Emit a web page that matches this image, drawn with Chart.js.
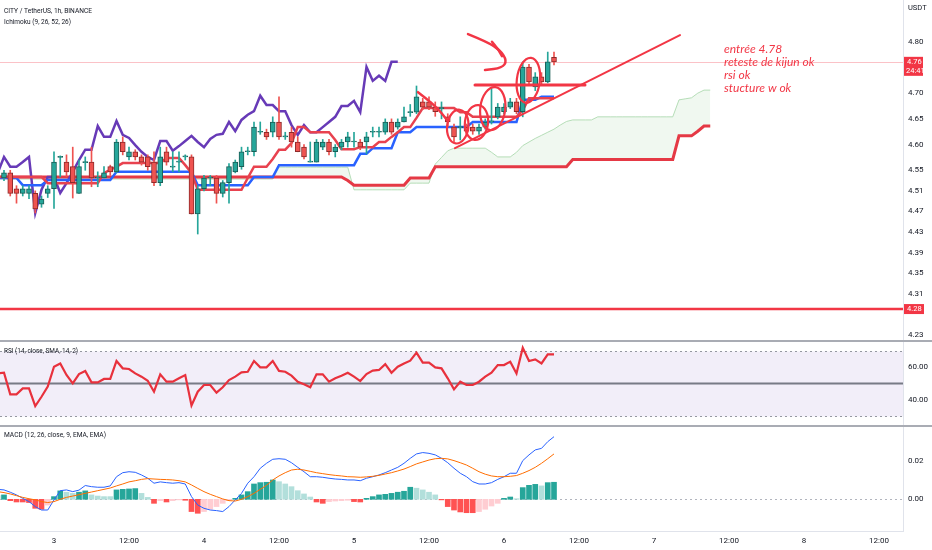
<!DOCTYPE html>
<html lang="fr">
<head>
<meta charset="utf-8">
<title>CITY / TetherUS 1h</title>
<script src="https://cdn.jsdelivr.net/npm/chart.js@4.4.1/dist/chart.umd.min.js"></script>
<style>
  html, body { margin: 0; padding: 0; background: #fff; }
  body { width: 932px; height: 550px; position: relative; overflow: hidden; }
  canvas { position: absolute; left: 0; }
</style>
</head>
<body>
<canvas id="graphPrix" width="932" height="340" style="top:0px"></canvas>
<canvas id="graphRsi" width="932" height="85" style="top:340px"></canvas>
<canvas id="graphMacd" width="932" height="125" style="top:425px"></canvas>
<script>
// bougies 1h, index 0 = le 2 a 16:00
const ouv = [4.535,4.545,4.514,4.505,4.505,4.505,4.484,4.505,4.514,4.575,
  4.566,4.557,4.505,4.565,4.566,4.535,4.535,4.557,4.547,4.605,
  4.576,4.586,4.576,4.576,4.566,4.526,4.586,4.556,4.566,4.576,
  4.576,4.465,4.514,4.535,4.535,4.505,4.526,4.547,4.557,4.586,
  4.586,4.624,4.624,4.624,4.644,4.615,4.624,4.605,4.595,4.566,
  4.566,4.595,4.605,4.586,4.595,4.605,4.605,4.605,4.605,4.624,
  4.624,4.624,4.644,4.634,4.644,4.662,4.663,4.683,4.683,4.673,
  4.670,4.654,4.634,4.633,4.634,4.634,4.626,4.634,4.644,4.654,
  4.664,4.673,4.683,4.664,4.751,4.712,4.732,4.722,4.770];
const clot = [4.545,4.505,4.505,4.514,4.514,4.475,4.494,4.514,4.566,4.577,
  4.547,4.526,4.557,4.567,4.535,4.536,4.545,4.547,4.605,4.586,
  4.586,4.576,4.566,4.557,4.526,4.576,4.566,4.558,4.567,4.577,
  4.465,4.514,4.535,4.536,4.505,4.526,4.557,4.566,4.586,4.587,
  4.634,4.625,4.615,4.644,4.615,4.616,4.605,4.586,4.576,4.567,
  4.605,4.605,4.586,4.595,4.605,4.615,4.606,4.595,4.615,4.625,
  4.625,4.644,4.624,4.644,4.654,4.664,4.693,4.673,4.673,4.664,
  4.672,4.644,4.615,4.635,4.626,4.626,4.634,4.644,4.646,4.673,
  4.673,4.683,4.664,4.751,4.722,4.732,4.722,4.761,4.761];
const haut = [4.550,4.550,4.520,4.520,4.520,4.510,4.500,4.520,4.586,4.578,
  4.580,4.595,4.570,4.576,4.595,4.547,4.557,4.560,4.610,4.615,
  4.595,4.590,4.580,4.580,4.586,4.595,4.595,4.586,4.586,4.580,
  4.580,4.520,4.540,4.540,4.540,4.530,4.563,4.570,4.595,4.595,
  4.644,4.644,4.630,4.654,4.693,4.624,4.634,4.615,4.600,4.605,
  4.610,4.610,4.610,4.600,4.610,4.624,4.624,4.610,4.624,4.634,
  4.634,4.650,4.650,4.650,4.673,4.678,4.714,4.690,4.693,4.683,
  4.683,4.660,4.640,4.654,4.640,4.640,4.640,4.650,4.710,4.680,
  4.680,4.690,4.690,4.761,4.756,4.740,4.740,4.780,4.780];
const bas = [4.530,4.500,4.486,4.500,4.495,4.467,4.478,4.497,4.476,4.537,
  4.537,4.496,4.505,4.550,4.518,4.518,4.535,4.540,4.545,4.580,
  4.570,4.570,4.560,4.550,4.520,4.520,4.560,4.547,4.547,4.570,
  4.465,4.426,4.510,4.520,4.486,4.498,4.486,4.545,4.552,4.580,
  4.578,4.620,4.610,4.615,4.610,4.610,4.595,4.586,4.572,4.566,
  4.566,4.590,4.580,4.576,4.590,4.595,4.595,4.590,4.582,4.615,
  4.615,4.620,4.620,4.630,4.644,4.655,4.660,4.668,4.668,4.655,
  4.650,4.635,4.605,4.609,4.620,4.620,4.620,4.630,4.640,4.650,
  4.660,4.670,4.660,4.654,4.715,4.705,4.715,4.720,4.755];

// indicateurs : commencent une bougie avant (index 0 = bougie -1)
const kDebut = -1;
const tenkan = [4.537,4.537,4.537,4.537,4.537,4.537,4.537,4.537,4.525,4.525,
  4.525,4.525,4.525,4.525,4.525,4.525,4.525,4.545,4.551,4.557,
  4.564,4.564,4.564,4.564,4.564,4.564,4.564,4.574,4.574,4.574,
  4.560,4.545,4.512,4.512,4.512,4.512,4.512,4.512,4.512,4.512,
  4.535,4.557,4.557,4.557,4.572,4.590,4.590,4.603,4.634,4.634,
  4.624,4.624,4.624,4.624,4.609,4.591,4.591,4.591,4.595,4.595,
  4.595,4.605,4.605,4.615,4.624,4.634,4.634,4.652,4.671,4.671,
  4.671,4.671,4.671,4.671,4.663,4.663,4.654,4.654,4.654,4.654,
  4.654,4.654,4.654,4.654,4.667,4.690,4.690,4.690,4.690,4.690];
const kijun = [4.535,4.535,4.535,4.535,4.521,4.521,4.521,4.521,4.531,4.531,
  4.531,4.531,4.531,4.531,4.531,4.531,4.531,4.531,4.531,4.547,
  4.547,4.547,4.547,4.547,4.547,4.547,4.547,4.547,4.547,4.547,
  4.547,4.547,4.521,4.521,4.521,4.521,4.521,4.521,4.521,4.521,
  4.521,4.537,4.537,4.537,4.537,4.560,4.560,4.560,4.560,4.560,
  4.560,4.560,4.560,4.560,4.560,4.560,4.560,4.560,4.582,4.582,
  4.593,4.593,4.593,4.593,4.624,4.624,4.624,4.634,4.634,4.634,
  4.634,4.634,4.634,4.634,4.634,4.634,4.644,4.644,4.644,4.644,
  4.644,4.644,4.644,4.644,4.687,4.687,4.687,4.693,4.693,4.693];
const chikou = [4.545,4.576,4.557,4.557,4.566,4.576,4.467,4.512,4.537,4.537,
  4.506,4.525,4.547,4.570,4.590,4.590,4.636,4.615,4.615,4.646,
  4.619,4.613,4.599,4.586,4.576,4.570,4.607,4.607,4.588,4.597,
  4.607,4.617,4.605,4.595,4.611,4.619,4.621,4.644,4.626,4.648,
  4.658,4.665,4.695,4.677,4.677,4.665,4.665,4.638,4.619,4.638,
  4.624,4.624,4.634,4.644,4.654,4.675,4.675,4.685,4.663,4.751,
  4.724,4.734,4.724,4.761,4.761];
const spanA = [4.533,4.533,4.533,4.533,4.533,4.533,4.533,4.533,4.533,4.533,
  4.533,4.533,4.533,4.533,4.533,4.533,4.533,4.533,4.533,4.533,
  4.533,4.533,4.533,4.533,4.533,4.533,4.533,4.533,4.533,4.533,
  4.533,4.533,4.533,4.533,4.533,4.533,4.533,4.533,4.533,4.533,
  4.533,4.533,4.533,4.533,4.533,4.556,4.556,4.556,4.556,4.556,
  4.556,4.556,4.556,4.556,4.556,4.556,4.556,4.512,4.512,4.512,
  4.512,4.512,4.512,4.512,4.512,4.512,4.525,4.525,4.525,4.525,
  4.562,4.575,4.588,4.593,4.593,4.593,4.593,4.593,4.593,4.585,
  4.576,4.576,4.576,4.585,4.598,4.605,4.612,4.618,4.624,4.630,
  4.638,4.645,4.648,4.648,4.648,4.648,4.654,4.654,4.654,4.654,
  4.654,4.654,4.654,4.654,4.654,4.654,4.654,4.654,4.654,4.687,
  4.689,4.691,4.700,4.706,4.706];
const spanB = [4.537,4.537,4.537,4.537,4.537,4.537,4.537,4.537,4.537,4.537,
  4.537,4.537,4.537,4.537,4.537,4.537,4.537,4.537,4.537,4.537,
  4.537,4.537,4.537,4.537,4.537,4.537,4.537,4.537,4.537,4.537,
  4.537,4.537,4.537,4.537,4.537,4.537,4.537,4.537,4.537,4.537,
  4.537,4.537,4.537,4.537,4.537,4.537,4.537,4.537,4.537,4.537,
  4.537,4.537,4.537,4.537,4.537,4.537,4.530,4.521,4.521,4.521,
  4.521,4.521,4.521,4.521,4.521,4.521,4.535,4.535,4.535,4.535,
  4.557,4.557,4.557,4.557,4.557,4.557,4.557,4.557,4.557,4.557,
  4.557,4.557,4.557,4.557,4.557,4.557,4.557,4.557,4.557,4.557,
  4.557,4.557,4.571,4.571,4.571,4.571,4.571,4.571,4.571,4.571,
  4.571,4.571,4.571,4.571,4.571,4.571,4.571,4.571,4.571,4.617,
  4.617,4.617,4.626,4.636,4.636];
const rsi = [56.1,56.5,43.3,43.3,46.9,46.9,36.1,41.8,48.0,60.2,
  62.2,55.1,50.0,55.7,57.6,50.6,50.6,52.7,52.7,63.7,
  59.2,58.8,56.1,54.1,51.6,44.9,55.5,51.0,51.0,53.1,
  55.1,36.5,44.9,49.0,49.0,44.3,47.6,52.0,54.1,56.7,
  57.1,63.7,59.8,59.8,63.7,57.6,57.1,54.7,51.0,49.4,
  47.6,55.5,55.5,51.0,53.1,54.7,56.5,54.1,51.4,55.7,
  57.8,58.2,61.8,56.5,60.2,62.2,63.9,68.8,62.7,62.7,
  59.8,59.2,53.1,46.3,51.0,49.0,49.0,51.0,54.1,56.5,
  61.2,61.2,63.3,56.1,71.8,63.7,64.7,62.2,67.8,67.8];
const macd = [0.0052,0.0049,0.0037,0.0023,0.0005,-0.0012,-0.0038,-0.0056,-0.0056,-0.0003,
  0.0045,0.0049,0.0040,0.0048,0.0072,0.0066,0.0063,0.0063,0.0070,0.0118,
  0.0139,0.0144,0.0141,0.0127,0.0110,0.0084,0.0091,0.0087,0.0084,0.0087,
  0.0080,0.0014,-0.0030,-0.0047,-0.0056,-0.0059,-0.0064,-0.0038,-0.0003,0.0031,
  0.0084,0.0118,0.0162,0.0188,0.0209,0.0212,0.0209,0.0191,0.0167,0.0144,
  0.0118,0.0118,0.0115,0.0110,0.0106,0.0104,0.0101,0.0101,0.0097,0.0110,
  0.0118,0.0127,0.0139,0.0153,0.0167,0.0188,0.0214,0.0237,0.0244,0.0240,
  0.0232,0.0214,0.0191,0.0162,0.0136,0.0118,0.0092,0.0080,0.0080,0.0087,
  0.0104,0.0118,0.0136,0.0136,0.0202,0.0232,0.0258,0.0266,0.0301,0.0327];
const signal = [0.0040,0.0035,0.0028,0.0019,0.0010,0.0003,-0.0003,-0.0012,-0.0017,-0.0012,
  0.0000,0.0010,0.0017,0.0024,0.0031,0.0038,0.0045,0.0052,0.0059,0.0070,
  0.0080,0.0091,0.0097,0.0104,0.0108,0.0106,0.0104,0.0103,0.0101,0.0097,
  0.0091,0.0075,0.0057,0.0040,0.0026,0.0014,0.0002,-0.0007,-0.0009,0.0000,
  0.0014,0.0031,0.0052,0.0073,0.0101,0.0122,0.0139,0.0153,0.0157,0.0153,
  0.0146,0.0139,0.0134,0.0129,0.0125,0.0122,0.0118,0.0117,0.0115,0.0117,
  0.0120,0.0125,0.0132,0.0139,0.0148,0.0158,0.0171,0.0185,0.0195,0.0205,
  0.0212,0.0214,0.0211,0.0202,0.0191,0.0179,0.0162,0.0144,0.0131,0.0122,
  0.0118,0.0118,0.0120,0.0124,0.0136,0.0150,0.0167,0.0188,0.0212,0.0237];
const histo = [0.0020,0.0023,-0.0007,-0.0014,-0.0014,-0.0017,-0.0047,-0.0052,-0.0030,0.0014,
  0.0044,0.0037,0.0031,0.0037,0.0044,0.0023,0.0017,0.0014,0.0014,0.0049,
  0.0052,0.0054,0.0056,0.0031,0.0010,-0.0021,-0.0007,-0.0014,-0.0007,-0.0003,
  -0.0005,-0.0064,-0.0073,-0.0064,-0.0052,-0.0038,-0.0021,-0.0007,0.0005,0.0023,
  0.0040,0.0080,0.0087,0.0089,0.0101,0.0092,0.0080,0.0066,0.0045,0.0028,
  0.0012,-0.0014,-0.0021,-0.0012,-0.0009,-0.0007,-0.0005,-0.0012,-0.0014,0.0005,
  0.0014,0.0023,0.0026,0.0031,0.0037,0.0042,0.0063,0.0058,0.0049,0.0037,
  0.0023,-0.0003,-0.0038,-0.0056,-0.0066,-0.0070,-0.0070,-0.0064,-0.0052,-0.0035,
  -0.0021,0.0005,0.0012,0.0003,0.0061,0.0073,0.0078,0.0070,0.0087,0.0089];

// axes
const heures = ["3","12:00","4","12:00","5","12:00","6","12:00","7","12:00","8","12:00"];
const prixTicks = [4.80,4.70,4.65,4.60,4.55,4.51,4.47,4.43,4.39,4.35,4.31,4.23];
const rsiTicks = [60, 40];
const macdTicks = [0.02, 0];
const niveauxRsi = [70, 50, 30];

// dessins (bougie, prix)
const niveau = 4.28;
const oblique = [[72.16, 4.593], [108.16, 4.813]];
const retest = [[75.36, 4.716], [92.96, 4.716]];
const cercles = [[72.6, 4.635, 1.7, 0.033], [75.6, 4.643, 1.85, 0.034], [78.2, 4.670, 2.0, 0.042], [83.9, 4.725, 1.85, 0.044]];
const fleche = [
  [[74.24, 4.815], [77.28, 4.800], [79.36, 4.784], [80.48, 4.763], [79.68, 4.749], [76.96, 4.745]],
  [[78.08, 4.800], [79.04, 4.786], [79.68, 4.772]]
];
const amorce = [[66.24, 4.702], [68.96, 4.677], [70.88, 4.648]];
const notes = ["entrée 4.78", "reteste de kijun ok", "rsi ok", "stucture w ok"];
const posNotes = [115.2, 4.786];

const vert = '#26a69a', rouge = '#ef5350', rougeDessin = '#f23645';
Chart.defaults.font.family = "Roboto, sans-serif";
const policeAxe = { family: "'Liberation Sans Narrow', Roboto, sans-serif", size: 8 };

const enPoints = (serie, depart) => serie.map((v, i) => ({ x: depart + i, y: v }));
const hausse = clot.map((c, i) => c >= ouv[i]);

function axeDroit(min, max, valeurs) {
  return {
    type: 'linear', position: 'right', min: min, max: max,
    grid: { display: false, drawTicks: false },
    border: { display: true, color: '#e0e3eb' },
    ticks: { autoSkip: false, padding: 5, color: '#131722', font: policeAxe, callback: v => Number(v).toFixed(2) },
    afterBuildTicks: s => { s.ticks = valeurs.map(v => ({ value: v })); },
    afterFit: s => { s.width = 29; s.paddingTop = 0; s.paddingBottom = 0; }
  };
}
function axeTemps(visible) {
  return {
    type: 'linear', min: -0.64, max: 143.84, offset: false, display: visible,
    grid: { display: false, drawTicks: false },
    border: { display: true, color: '#e0e3eb' },
    ticks: { autoSkip: false, maxRotation: 0, padding: 5, color: '#131722', font: policeAxe, callback: (v, i) => heures[i] },
    afterBuildTicks: s => { s.ticks = heures.map((_, i) => ({ value: 8 + 12 * i })); },
    afterFit: s => { if (visible) s.height = 19; s.paddingLeft = 0; s.paddingRight = 0; }
  };
}
const optionsBase = (scales) => ({
  responsive: false, animation: false, events: [],
  layout: { padding: 0 },
  plugins: { legend: { display: false }, tooltip: { enabled: false } },
  scales: scales
});

function traitLisse(ctx, pts) {
  ctx.beginPath();
  ctx.moveTo(pts[0][0], pts[0][1]);
  for (let i = 1; i < pts.length - 1; i++) {
    const mx = (pts[i][0] + pts[i + 1][0]) / 2, my = (pts[i][1] + pts[i + 1][1]) / 2;
    ctx.quadraticCurveTo(pts[i][0], pts[i][1], mx, my);
  }
  const d = pts[pts.length - 1];
  ctx.lineTo(d[0], d[1]);
  ctx.stroke();
}
function texteEtroit(ctx, txt, x, y, taille, largeur) {
  ctx.font = taille + 'px Roboto';
  const w = ctx.measureText(txt).width;
  ctx.save();
  ctx.translate(x, y);
  ctx.scale(Math.min(1, largeur / w), 1);
  ctx.fillText(txt, 0, 0);
  ctx.restore();
}
function separateur(ch) {
  const ctx = ch.ctx;
  ctx.save();
  ctx.fillStyle = '#a9acb4';
  ctx.fillRect(0, 0, ch.width, 2);
  ctx.restore();
}

const dessinsPrix = {
  id: 'dessinsPrix',
  beforeDatasetsDraw(ch) {
    const { ctx, chartArea: a, scales: { y } } = ch;
    const yp = Math.round(y.getPixelForValue(clot[clot.length - 1])) + 0.5;
    ctx.save();
    ctx.strokeStyle = 'rgba(242,54,69,0.3)';
    ctx.lineWidth = 1;
    ctx.beginPath(); ctx.moveTo(a.left, yp); ctx.lineTo(a.right, yp); ctx.stroke();
    ctx.restore();
  },
  afterDatasetsDraw(ch) {
    const { ctx, chartArea: a, scales: { x, y } } = ch;
    const P = ([k, p]) => [x.getPixelForValue(k), y.getPixelForValue(p)];
    ctx.save();
    ctx.beginPath(); ctx.rect(a.left, a.top, a.width, a.height); ctx.clip();
    ctx.strokeStyle = rougeDessin; ctx.lineCap = 'round'; ctx.lineJoin = 'round';
    const yN = y.getPixelForValue(niveau);
    ctx.lineWidth = 2.5;
    ctx.beginPath(); ctx.moveTo(a.left, yN); ctx.lineTo(a.right, yN); ctx.stroke();
    ctx.lineWidth = 2;
    traitLisse(ctx, oblique.map(P));
    ctx.lineWidth = 3;
    traitLisse(ctx, retest.map(P));
    ctx.lineWidth = 2.2;
    cercles.forEach(([k, p, dk, dp]) => {
      const [cx, cy] = P([k, p]);
      const rx = Math.abs(x.getPixelForValue(k + dk) - cx);
      const ry = Math.abs(y.getPixelForValue(p + dp) - cy);
      ctx.beginPath(); ctx.ellipse(cx, cy, rx, ry, 0.12, 0, Math.PI * 2); ctx.stroke();
    });
    ctx.lineWidth = 2.5;
    fleche.concat([amorce]).forEach(t => traitLisse(ctx, t.map(P)));
    const [tx, ty] = P(posNotes);
    ctx.fillStyle = rougeDessin;
    ctx.font = 'italic 12px Lato, sans-serif';
    ctx.textBaseline = 'middle';
    notes.forEach((n, i) => ctx.fillText(n, tx, ty + i * 13));
    ctx.restore();
  },
  afterDraw(ch) {
    const { ctx, chartArea: a, scales: { y } } = ch;
    ctx.save();
    ctx.fillStyle = '#131722';
    ctx.textBaseline = 'middle';
    texteEtroit(ctx, 'CITY / TetherUS, 1h, BINANCE', 4, 11, 8, 88);
    texteEtroit(ctx, 'Ichimoku (9, 26, 52, 26)', 4, 22, 8, 67);
    ctx.font = '7.5px Roboto';
    ctx.fillText('USDT', a.right + 5, 8);
    // etiquettes du dernier prix et du niveau
    const dernier = clot[clot.length - 1];
    const yp = y.getPixelForValue(dernier);
    ctx.fillStyle = rougeDessin;
    ctx.fillRect(a.right + 1, yp - 5, 19, 19);
    const yN = y.getPixelForValue(niveau);
    ctx.fillRect(a.right + 1, yN - 5, 20, 10);
    ctx.fillStyle = '#fff';
    ctx.font = '7.5px Roboto';
    ctx.fillText(dernier.toFixed(2), a.right + 4, yp);
    ctx.fillText('24:41', a.right + 3, yp + 9);
    ctx.fillText(niveau.toFixed(2), a.right + 4, yN);
    ctx.restore();
  }
};

new Chart(document.getElementById('graphPrix'), {
  type: 'line',
  data: {
    datasets: [
      { label: 'Lead A', data: enPoints(spanA, kDebut), borderColor: 'rgba(165,214,167,0.8)', borderWidth: 1, pointRadius: 0,
        fill: { target: 1, above: 'rgba(165,214,167,0.17)', below: 'rgba(165,214,167,0.17)' }, order: 10 },
      { label: 'Lead B', data: enPoints(spanB, kDebut), borderColor: '#e53945', borderWidth: 3, pointRadius: 0, order: 9 },
      { label: 'Lagging', data: enPoints(chikou, kDebut), borderColor: '#673ab7', borderWidth: 2.5, pointRadius: 0, order: 8 },
      { label: 'Base', data: enPoints(kijun, kDebut), borderColor: '#2962ff', borderWidth: 2.5, pointRadius: 0, order: 7 },
      { label: 'Conversion', data: enPoints(tenkan, kDebut), borderColor: '#e8424f', borderWidth: 2.5, pointRadius: 0, order: 6 },
      { type: 'bar', label: 'meches', data: bas.map((b, i) => ({ x: i, y: [b, haut[i]] })),
        backgroundColor: hausse.map(h => h ? vert : rouge), barThickness: 1, grouped: false, order: 2 },
      { type: 'bar', label: 'corps', data: ouv.map((o, i) => ({ x: i, y: [o, clot[i]] })),
        backgroundColor: hausse.map(h => h ? vert : rouge), borderColor: hausse.map(h => h ? '#1c5d56' : '#8d2b2b'),
        borderWidth: 1, borderSkipped: false, barThickness: 5, minBarLength: 1, grouped: false, order: 1 }
    ]
  },
  options: optionsBase({ x: axeTemps(false), y: axeDroit(4.2198, 4.8813, prixTicks) }),
  plugins: [dessinsPrix]
});

const zoneRsi = {
  id: 'zoneRsi',
  beforeDatasetsDraw(ch) {
    const { ctx, chartArea: a, scales: { y } } = ch;
    const [yH, yM, yB] = niveauxRsi.map(v => Math.round(y.getPixelForValue(v)) + 0.5);
    ctx.save();
    ctx.fillStyle = 'rgba(126,87,194,0.1)';
    ctx.fillRect(a.left, yH, a.width, yB - yH);
    ctx.strokeStyle = '#9598a1'; ctx.lineWidth = 1; ctx.setLineDash([2, 3]);
    [yH, yB].forEach(v => { ctx.beginPath(); ctx.moveTo(a.left, v); ctx.lineTo(a.right, v); ctx.stroke(); });
    ctx.setLineDash([]);
    ctx.strokeStyle = '#787b86'; ctx.lineWidth = 2;
    ctx.beginPath(); ctx.moveTo(a.left, yM); ctx.lineTo(a.right, yM); ctx.stroke();
    ctx.restore();
  },
  afterDraw(ch) {
    separateur(ch);
    const ctx = ch.ctx;
    ctx.save();
    ctx.fillStyle = '#131722'; ctx.textBaseline = 'middle';
    texteEtroit(ctx, 'RSI (14, close, SMA, 14, 2)', 4, 11, 8, 74);
    ctx.restore();
  }
};
new Chart(document.getElementById('graphRsi'), {
  type: 'line',
  data: { datasets: [{ data: enPoints(rsi, kDebut), borderColor: '#e8313d', borderWidth: 2.2, pointRadius: 0 }] },
  options: optionsBase({ x: axeTemps(false), y: axeDroit(24.5, 76.55, rsiTicks) }),
  plugins: [zoneRsi]
});

const couleursHisto = histo.map((v, i) => {
  const prec = i > 0 ? histo[i - 1] : v;
  if (v >= 0) return v > prec ? '#26a69a' : '#b2dfdb';
  return v > prec ? '#ffcdd2' : '#ff5252';
});
const zeroMacd = {
  id: 'zeroMacd',
  beforeDatasetsDraw(ch) {
    const { ctx, chartArea: a, scales: { y } } = ch;
    const y0 = Math.round(y.getPixelForValue(0)) + 0.5;
    ctx.save();
    ctx.strokeStyle = '#b2b5be'; ctx.lineWidth = 1; ctx.setLineDash([2, 3]);
    ctx.beginPath(); ctx.moveTo(a.left, y0); ctx.lineTo(a.right, y0); ctx.stroke();
    ctx.restore();
  },
  afterDraw(ch) {
    separateur(ch);
    const ctx = ch.ctx;
    ctx.save();
    ctx.fillStyle = '#131722'; ctx.textBaseline = 'middle';
    texteEtroit(ctx, 'MACD (12, 26, close, 9, EMA, EMA)', 4, 10, 8, 102);
    ctx.restore();
  }
};
new Chart(document.getElementById('graphMacd'), {
  type: 'line',
  data: {
    datasets: [
      { type: 'bar', data: enPoints(histo, kDebut), backgroundColor: couleursHisto, barThickness: 5, grouped: false, order: 3 },
      { data: enPoints(macd, kDebut), borderColor: '#2962ff', borderWidth: 1, pointRadius: 0, order: 2 },
      { data: enPoints(signal, kDebut), borderColor: '#ff6d00', borderWidth: 1, pointRadius: 0, order: 1 }
    ]
  },
  options: optionsBase({ x: axeTemps(true), y: axeDroit(-0.01655, 0.0388, macdTicks) }),
  plugins: [zeroMacd]
});
</script>
</body>
</html>
